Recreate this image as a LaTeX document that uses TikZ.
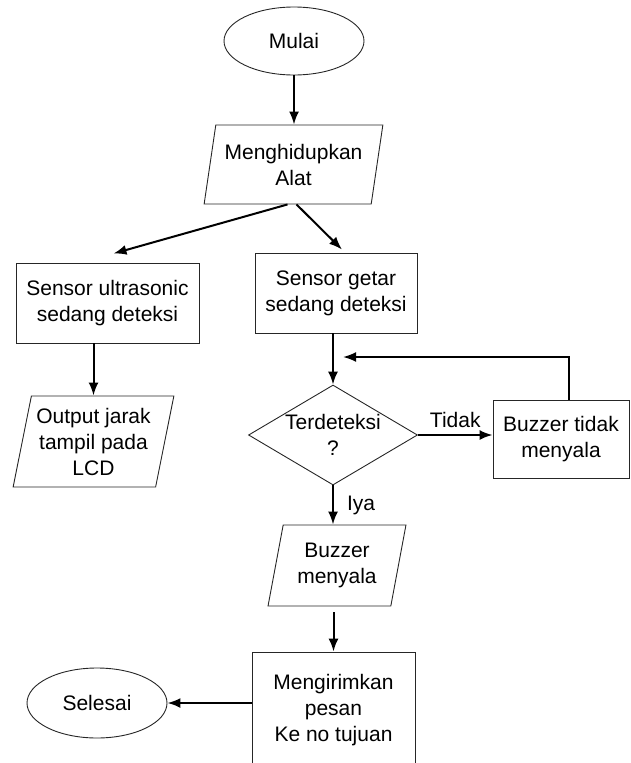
\documentclass[tikz,border=0pt]{standalone}
\usepackage{fontspec}
\setmainfont{Liberation Sans}
\usetikzlibrary{shapes.geometric,arrows.meta}

\begin{document}
\begin{tikzpicture}[x=1pt, y=-1pt,
  every node/.style={font=\fontsize{21}{26}\selectfont, align=center, inner sep=0},
  terminal/.style={ellipse, draw=black!85, line width=0.9pt, minimum width=140, minimum height=68},
  io/.style={trapezium, draw=black!85, line width=0.9pt, trapezium left angle=76, trapezium right angle=104, trapezium stretches=true},
  proses/.style={rectangle, draw=black!85, line width=0.9pt},
  pilih/.style={diamond, draw=black!85, line width=0.9pt, minimum width=169, minimum height=100},
  alur/.style={-{Latex[length=13pt,width=10pt]}, line width=2pt}]

\useasboundingbox (0,0) rectangle (630,763);

\node[terminal] (mulai) at (294,41) {Mulai};
\node[io, minimum width=179, minimum height=79] (alat) at (293.5,164.5) {Menghidupkan\\Alat};
\node[proses, minimum width=183, minimum height=80] (ultra) at (107.5,303) {Sensor ultrasonic\\sedang deteksi};
\node[proses, minimum width=162, minimum height=80] (getar) at (336,293) {Sensor getar\\sedang deteksi};
\node[io, minimum width=161, minimum height=91] (lcd) at (93.5,441.5) {Output jarak\\tampil pada\\LCD};
\node[pilih, label={center:Terdeteksi\\?}] (cek) at (333,435) {};
\node[proses, minimum width=136, minimum height=78] (tidak) at (561,439) {Buzzer tidak\\menyala};
\node[io, minimum width=138, minimum height=81] (buzz) at (337,565.5) {Buzzer\\menyala};
\node[proses, minimum width=163, minimum height=116] (kirim) at (333.5,710) {Mengirimkan\\pesan\\Ke no tujuan};
\node[terminal, minimum height=70] (selesai) at (97,703) {Selesai};
\coordinate (balik) at (343,357);

\draw[alur] (mulai.south) -- (mulai.south |- alat.north);
\draw[alur] ([xshift=-6pt]alat.center |- alat.south) -- ([xshift=6pt,yshift=9pt]ultra.north);
\draw[alur] ([xshift=3pt]alat.center |- alat.south) -- ([xshift=6pt,yshift=3pt]getar.north);
\draw[alur] (ultra.south -| lcd.center) -- (lcd.center |- lcd.north);
\draw[alur] (getar.south -| cek) -- (cek.north);
\draw[alur] (cek.east) -- (cek.east -| tidak.west) node[midway, above=6pt] {Tidak};
\draw[alur] ([xshift=8pt]tidak.north) |- (balik);
\draw[alur] (cek.south) -- (cek.south |- buzz.north) node[midway, right=13pt] {Iya};
\draw[alur] ([yshift=-6pt]buzz.south -| kirim.north) -- (kirim.north);
\draw[alur] (kirim.west |- selesai.east) -- (selesai.east);

\end{tikzpicture}
\end{document}
